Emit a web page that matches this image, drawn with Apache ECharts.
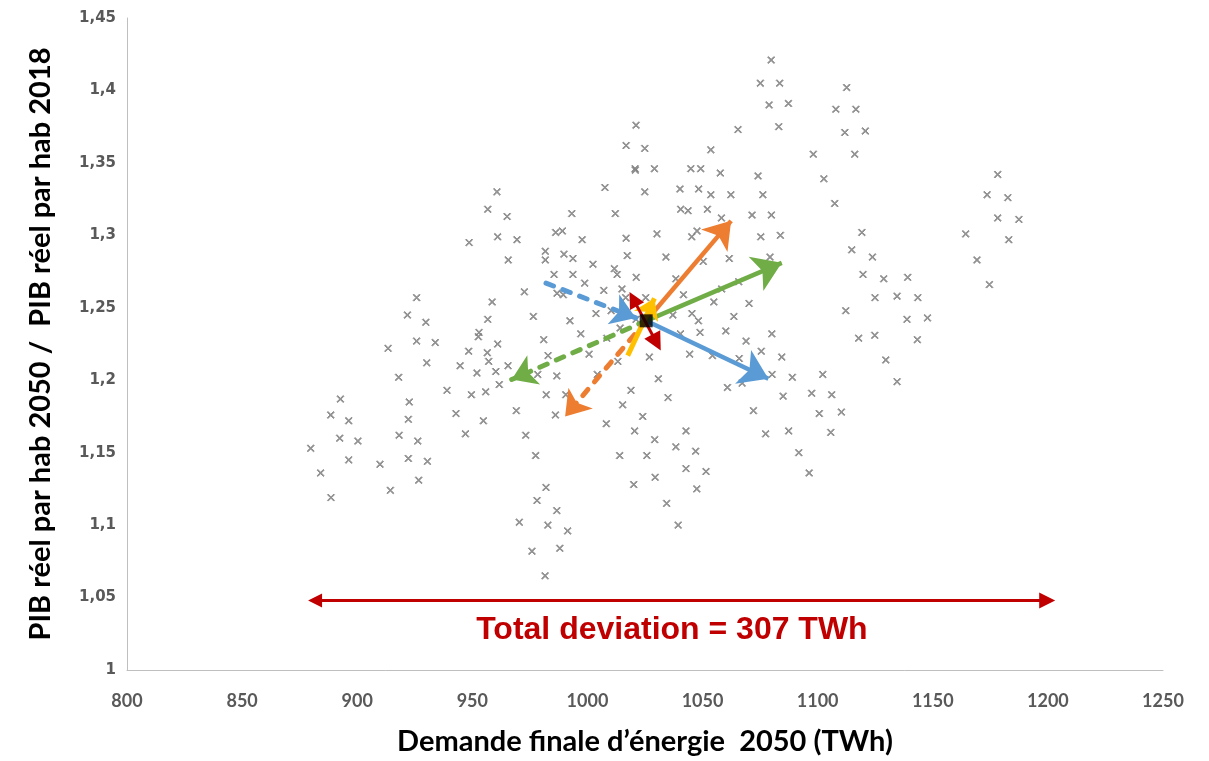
<!DOCTYPE html>
<html>
<head>
<meta charset="UTF-8">
<title>PIB par habitant et demande finale d'énergie 2050</title>
<script src="https://cdn.jsdelivr.net/npm/echarts@6/dist/echarts.min.js"></script>
<style>html,body{margin:0;background:#fff;}#view{width:1209px;height:761px;}</style>
</head>
<body>
<div id="view"></div>
<script>
// demande finale d'énergie 2050 (TWh) de chaque scénario
var demande = [
 925.8,921.8,929.8,925.8,933.9,913.4,930.2,918.0,892.7,922.6,888.5,896.3,922.2,892.4,900.3,918.2,926.3,879.8,896.3,909.9,
 922.2,930.5,884.1,926.7,914.4,888.6,958.6,956.7,952.9,952.6,948.4,956.5,957.1,944.7,952.0,939.0,949.6,955.8,942.9,954.8,
 947.0,1020.8,1007.6,960.7,956.7,965.1,993.2,1012.1,986.2,989.1,961.0,969.4,997.7,1016.8,948.6,981.7,981.7,989.8,993.7,965.6,
 1002.4,1017.3,1011.7,1012.9,985.5,993.7,1021.2,998.8,1007.1,1015.0,972.6,986.8,989.5,1016.6,1003.7,1010.3,976.5,992.4,997.1,961.0,
 981.0,1014.2,1008.4,982.9,1000.7,960.2,965.5,978.4,986.7,1013.2,1004.3,961.7,982.1,990.6,1018.9,1015.3,969.1,986.1,973.2,977.5,
 1008.2,1020.5,1014.0,1020.1,982.0,978.1,986.7,970.4,982.8,991.4,975.9,988.0,981.6,1079.8,1075.1,1083.5,1078.9,1087.3,1083.1,1065.4,
 1021.1,1016.8,1024.9,1053.6,1098.1,1020.7,1029.1,1044.9,1049.2,1057.7,1074.1,1024.9,1040.2,1048.3,1053.6,1062.3,1076.2,1040.5,1043.7,1052.1,
 1058.2,1071.5,1079.9,1030.2,1047.6,1045.3,1075.3,1083.8,1034.1,1050.3,1061.6,1079.3,1038.4,1025.3,1041.7,1058.3,1065.7,1054.9,1070.2,1037.1,
 1045.4,1048.2,1063.6,1021.1,1040.4,1048.9,1060.1,1080.1,1068.9,1026.9,1044.4,1054.3,1065.9,1075.5,1084.4,1030.8,1060.8,1067.2,1080.2,1089.0,
 1085.0,1097.4,1035.0,1024.0,1072.1,1100.7,1042.8,1029.2,1077.4,1087.4,1038.4,1047.0,1025.8,1091.8,1042.8,1051.5,1096.3,1029.4,1047.5,1034.4,
 1039.4,1112.6,1107.9,1116.6,1111.8,1120.7,1116.1,1102.7,1107.4,1119.2,1114.8,1123.8,1119.7,1128.7,1139.1,1124.9,1134.5,1143.5,1178.2,1173.6,
 1182.6,1178.2,1187.4,1164.3,1183.0,1169.2,1174.6,1112.2,1138.8,1147.7,1117.8,1124.8,1143.3,1129.6,1102.2,1134.5,1106.1,1110.3,1105.7
];
// PIB réel par hab 2050 / PIB réel par hab 2018, même ordre
var pibRatio = [
 1.257,1.245,1.240,1.227,1.226,1.222,1.212,1.202,1.187,1.185,1.176,1.172,1.173,1.160,1.158,1.162,1.158,1.153,1.145,1.142,
 1.146,1.144,1.136,1.131,1.124,1.119,1.254,1.242,1.233,1.230,1.220,1.219,1.213,1.210,1.205,1.193,1.190,1.192,1.177,1.172,
 1.163,1.345,1.333,1.330,1.318,1.313,1.315,1.315,1.302,1.303,1.299,1.297,1.297,1.298,1.295,1.289,1.283,1.287,1.284,1.283,
 1.280,1.286,1.277,1.273,1.273,1.273,1.271,1.267,1.262,1.263,1.261,1.260,1.259,1.257,1.246,1.248,1.244,1.241,1.232,1.225,
 1.228,1.236,1.229,1.217,1.218,1.206,1.210,1.204,1.203,1.213,1.204,1.197,1.190,1.190,1.193,1.183,1.179,1.176,1.162,1.148,
 1.170,1.165,1.148,1.128,1.126,1.117,1.110,1.102,1.100,1.096,1.082,1.084,1.065,1.421,1.405,1.405,1.390,1.391,1.375,1.373,
 1.376,1.362,1.360,1.359,1.356,1.346,1.346,1.346,1.346,1.343,1.341,1.330,1.332,1.332,1.328,1.328,1.328,1.318,1.317,1.318,
 1.312,1.314,1.314,1.301,1.303,1.299,1.299,1.300,1.285,1.282,1.284,1.285,1.270,1.257,1.259,1.263,1.268,1.254,1.253,1.245,
 1.246,1.241,1.244,1.242,1.232,1.233,1.234,1.232,1.227,1.216,1.218,1.217,1.215,1.220,1.216,1.201,1.195,1.198,1.204,1.202,
 1.189,1.191,1.188,1.175,1.179,1.177,1.165,1.159,1.163,1.165,1.154,1.151,1.148,1.150,1.139,1.137,1.136,1.133,1.125,1.115,
 1.100,1.402,1.387,1.387,1.371,1.372,1.356,1.339,1.322,1.302,1.290,1.285,1.273,1.270,1.271,1.257,1.258,1.257,1.342,1.328,
 1.326,1.312,1.311,1.301,1.297,1.283,1.266,1.248,1.242,1.243,1.229,1.231,1.228,1.214,1.204,1.199,1.190,1.178,1.164
];

// scénario central et flèches (départ, arrivée)
var centre = [1025.5, 1.241];
var flecheBleue = [centre, [1078.6, 1.201]];
var flecheBleuePointillee = [[982.0, 1.267], [1021.0, 1.243]];
var flecheOrange = [centre, [1062.4, 1.310]];
var flecheOrangePointillee = [centre, [990.3, 1.175]];
var flecheVerte = [centre, [1084.4, 1.281]];
var flecheVertePointillee = [centre, [967.1, 1.2005]];
var flecheJaune = [[1017.5, 1.217], [1029.1, 1.2565]];
var flecheRouge = [[1019.9, 1.256], [1030.0, 1.226]];
var ecartTotal = [[881.7, 1.048], [1199.7, 1.048]];
var ecartTexte = 'Total deviation = 307 TWh';

var points = demande.map(function (d, i) { return [d, pibRatio[i]]; });

var myChart = echarts.init(document.getElementById('view'));

var croix = 'path://M1,0L5,4L9,0L10,1L6,5L10,9L9,10L5,6L1,10L0,9L4,5L0,1Z';

function fleche(coords, color, dashed, head, width, both) {
    return {
        type: 'lines',
        coordinateSystem: 'cartesian2d',
        silent: true,
        z: 5,
        symbol: both ? ['triangle', 'triangle'] : ['none', 'arrow'],
        symbolSize: head,
        lineStyle: {
            color: color,
            width: width,
            opacity: 1,
            type: dashed ? [8, 10] : 'solid',
            cap: dashed ? 'round' : 'butt'
        },
        data: [{ coords: coords }]
    };
}

var option = {
    animation: false,
    backgroundColor: '#fff',
    grid: { left: 127, right: 46, top: 18, bottom: 89 },
    xAxis: {
        type: 'value',
        min: 800, max: 1250, interval: 50,
        name: 'Demande finale d\u2019énergie  2050 (TWh)',
        nameLocation: 'middle',
        nameGap: 57,
        nameTextStyle: { fontFamily: 'Lato', fontWeight: 'bold', fontSize: 29, color: '#000' },
        axisLine: { lineStyle: { color: '#BFBFBF', width: 1 } },
        axisTick: { show: false },
        splitLine: { show: false },
        axisLabel: {
            margin: 22, fontFamily: 'Lato', fontWeight: 'bold', fontSize: 18, color: '#595959',
            formatter: function (v) { return String(v); }
        }
    },
    yAxis: {
        type: 'value',
        min: 1, max: 1.45, interval: 0.05,
        name: 'PIB réel par hab 2050 /  PIB réel par hab 2018',
        nameLocation: 'middle',
        nameGap: 72,
        nameTextStyle: { fontFamily: 'Lato', fontWeight: 'bold', fontSize: 29, color: '#000' },
        axisLine: { show: true, lineStyle: { color: '#BFBFBF', width: 1 } },
        axisTick: { show: false },
        splitLine: { show: false },
        axisLabel: {
            margin: 11, fontFamily: 'DejaVu Sans', fontWeight: 'bold', fontSize: 15, color: '#595959',
            formatter: function (v) { return String(Math.round(v * 100) / 100).replace('.', ','); }
        }
    },
    series: [
        {
            type: 'scatter',
            symbol: croix,
            symbolSize: 7,
            itemStyle: { color: '#7F7F7F', borderColor: '#7F7F7F', borderWidth: 1 },
            silent: true,
            data: points,
            z: 2
        },
        fleche(flecheBleuePointillee, '#5B9BD5', true, 24, 5),
        fleche(flecheVertePointillee, '#70AD47', true, 24, 5),
        fleche(flecheOrangePointillee, '#ED7D31', true, 24, 5),
        fleche(flecheBleue, '#5B9BD5', false, 28, 4.5),
        fleche(flecheOrange, '#ED7D31', false, 26, 4.5),
        fleche(flecheVerte, '#70AD47', false, 28, 4.5),
        fleche(flecheJaune, '#FFC000', false, 20, 5),
        fleche(flecheRouge, '#C00000', false, [16, 18], 3, true),
        fleche(ecartTotal, '#C00000', false, [14, 16], 3, true),
        {
            type: 'scatter',
            symbol: 'rect',
            symbolSize: 13,
            itemStyle: { color: '#000' },
            silent: true,
            data: [centre],
            z: 10
        }
    ]
};
myChart.setOption(option);

// texte de l'écart total sous la flèche rouge
var pos = myChart.convertToPixel('grid', [(ecartTotal[0][0] + ecartTotal[1][0]) / 2 - 4, ecartTotal[0][1]]);
myChart.setOption({
    graphic: [{
        type: 'text',
        x: pos[0], y: pos[1] + 30,
        style: {
            text: ecartTexte,
            fill: '#C00000',
            font: 'bold 32px "Liberation Sans", Arial, sans-serif',
            align: 'center',
            verticalAlign: 'middle'
        }
    }]
});
</script>
</body>
</html>
